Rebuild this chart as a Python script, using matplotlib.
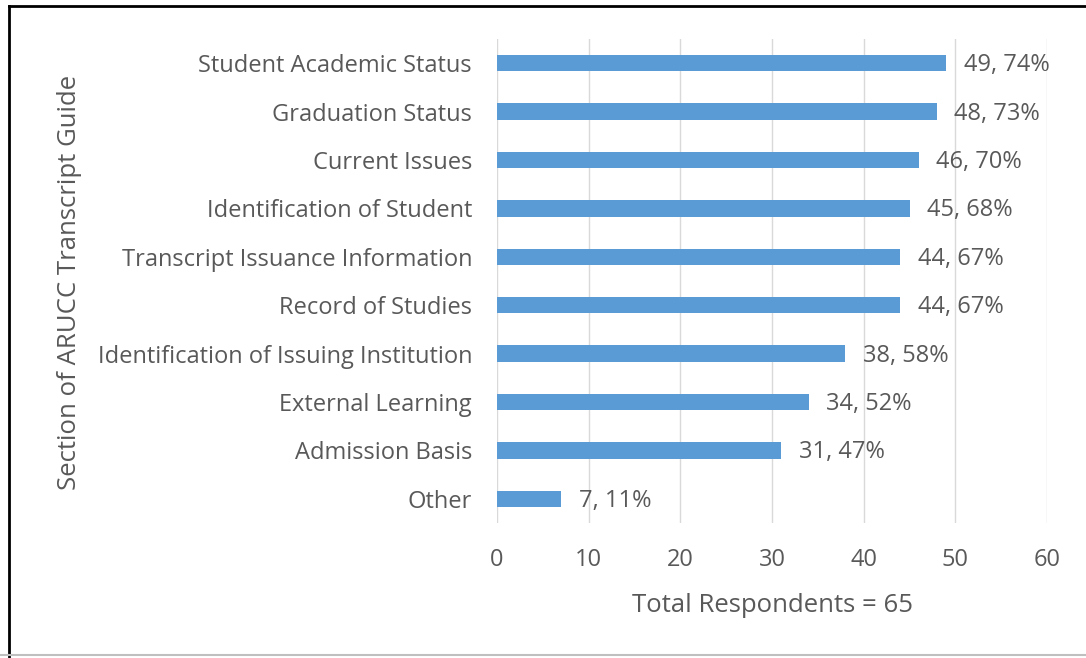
import matplotlib.pyplot as plt
from matplotlib.lines import Line2D

# Data (top to bottom as shown)
categories = ['Student Academic Status', 'Graduation Status', 'Current Issues',
              'Identification of Student', 'Transcript Issuance Information',
              'Record of Studies', 'Identification of Issuing Institution',
              'External Learning', 'Admission Basis', 'Other']
counts = [49, 48, 46, 45, 44, 44, 38, 34, 31, 7]
percents = [74, 73, 70, 68, 67, 67, 58, 52, 47, 11]
xticks = [0, 10, 20, 30, 40, 50, 60]

text_color = '#595959'
plt.rcParams['font.family'] = ['Open Sans', 'DejaVu Sans']

fig = plt.figure(figsize=(10.86, 6.58), dpi=100)
ax = fig.add_axes([497 / 1086, 1 - 523 / 658, 550 / 1086, 484 / 658])

# reversed so the first category sits on top
ypos = list(range(len(categories)))[::-1]
ax.barh(ypos, counts, height=0.34, color='#5B9BD5', zorder=3)

for y, c, p in zip(ypos, counts, percents):
    ax.text(c + 1.9, y - 0.04, f'{c}, {p}%', va='center', ha='left',
            fontsize=17, color=text_color)

ax.set_xlim(0, 60)
ax.set_ylim(-0.5, len(categories) - 0.5)
ax.set_xticks(xticks)
ax.set_yticks(ypos)
ax.set_yticklabels(categories)
ax.tick_params(axis='both', length=0, labelsize=17, colors=text_color)
ax.tick_params(axis='x', pad=18)
ax.tick_params(axis='y', pad=18)
ax.grid(axis='x', color='#D9D9D9', linewidth=1, zorder=0)
for s in ax.spines.values():
    s.set_visible(False)

ax.set_xlabel('Total Respondents = 65', fontsize=18.5, color=text_color, labelpad=15)
fig.text(70 / 1086, 1 - 282 / 658, 'Section of ARUCC Transcript Guide', rotation=90,
         ha='center', va='center', fontsize=18.5, color=text_color)

# screenshot-style frame
fig.add_artist(Line2D([9 / 1086, 9 / 1086], [0, 1 - 6 / 658], color='black', linewidth=2))
fig.add_artist(Line2D([9 / 1086, 1], [1 - 6 / 658, 1 - 6 / 658], color='black', linewidth=2))
fig.add_artist(Line2D([0, 1], [1 - 655 / 658, 1 - 655 / 658], color='#BFBFBF', linewidth=1.5))

plt.savefig('out.png')
